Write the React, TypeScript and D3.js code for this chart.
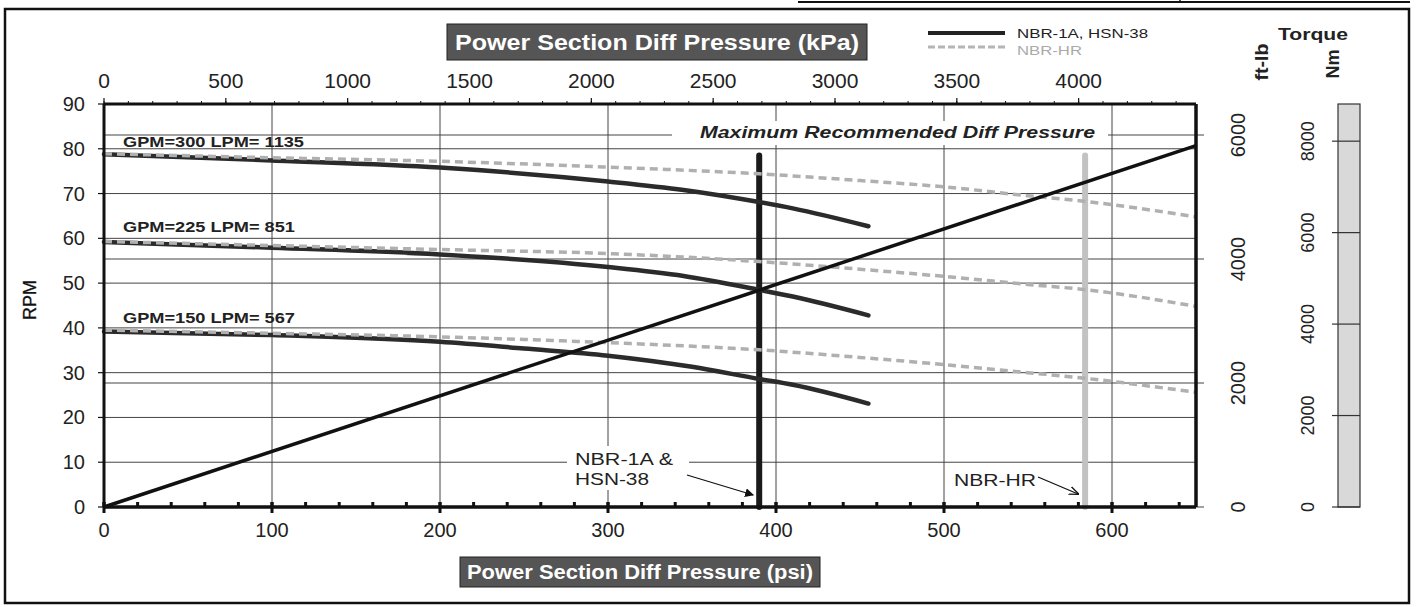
import React from 'react';
import * as d3 from 'd3';

// tick labels
const psiTicks = [0, 100, 200, 300, 400, 500, 600];
const rpmTicks = [0, 10, 20, 30, 40, 50, 60, 70, 80, 90];
const kpaTicks = [0, 500, 1000, 1500, 2000, 2500, 3000, 3500, 4000];
const ftlbTicks = [0, 2000, 4000, 6000];
const nmTicks = [0, 2000, 4000, 6000, 8000];

// flow rates
const flowLabels = ['GPM=300 LPM= 1135', 'GPM=225 LPM= 851', 'GPM=150 LPM= 567'];
const flowLabelRpm = [81.5, 62.5, 42.2];

// NBR-1A, HSN-38 (solid black)
const stdPsi = [0, 100, 200, 300, 345, 390, 410, 455];
const std300 = [78.8, 77.4, 75.8, 72.7, 70.8, 68.1, 66.7, 62.7];
const std225 = [59.2, 57.9, 56.4, 53.6, 51.6, 48.5, 47.0, 42.8];
const std150Psi = [0, 100, 200, 250, 300, 350, 390, 410, 455];
const std150 = [39.2, 38.4, 36.9, 35.4, 33.8, 31.3, 28.6, 27.3, 23.1];

// NBR-HR (grey dashed)
const hrPsi = [0, 100, 200, 300, 390, 450, 500, 550, 585, 650];
const hr300 = [78.9, 78.0, 77.2, 75.9, 74.4, 72.9, 71.5, 69.5, 68.2, 64.8];
const hr225 = [59.3, 58.4, 57.5, 56.6, 54.8, 53.1, 51.5, 49.7, 48.5, 44.8];
const hr150 = [39.5, 38.8, 38.0, 36.7, 35.1, 33.4, 31.8, 30.0, 28.7, 25.6];

// torque (ft-lb) vs psi
const torquePsi = [0, 650];
const torqueFtlb = [0, 5830];

// max recommended diff pressure (psi)
const maxStdPsi = 390;
const maxHrPsi = 584;
const maxBarRpm = 78.5;

const FONT = '"Liberation Sans", Arial, sans-serif';
const PSI_TO_KPA = 6.894757;
const FTLB_TO_NM = 1.35582;

const x = d3.scaleLinear().domain([0, 650]).range([104, 1196]);
const y = d3.scaleLinear().domain([0, 90]).range([507, 104]);
const yFt = d3.scaleLinear().domain([0, 6500]).range([507, 104]);
const yNm = d3.scaleLinear().domain([0, 6500 * FTLB_TO_NM]).range([507, 104]);
const xKpa = d3.scaleLinear().domain([0, 650 * PSI_TO_KPA]).range([104, 1196]);

const zip = (a: number[], b: number[]) => a.map((v, i) => [v, b[i]] as [number, number]);

export default function App() {
  const line = d3.line<[number, number]>()
    .x(d => x(d[0]))
    .y(d => y(d[1]))
    .curve(d3.curveMonotoneX);

  const stdCurves = [zip(stdPsi, std300), zip(stdPsi, std225), zip(std150Psi, std150)];
  const hrCurves = [zip(hrPsi, hr300), zip(hrPsi, hr225), zip(hrPsi, hr150)];
  const torqueLine = d3.line<[number, number]>().x(d => x(d[0])).y(d => yFt(d[1]));

  const [x0, x1] = x.range();
  const [yb, yt] = y.range();

  return (
    <svg width={1416} height={607} style={{ position: 'absolute', left: 0, top: 0, background: '#fff' }}
      fontFamily={FONT}>
      <defs>
        <marker id="arrFill" viewBox="0 0 10 10" refX="9" refY="5" markerWidth="9" markerHeight="9"
          orient="auto" markerUnits="userSpaceOnUse">
          <path d="M0,0 L10,5 L0,10 z" fill="#111" />
        </marker>
        <marker id="arrOpen" viewBox="0 0 10 10" refX="9" refY="5" markerWidth="10" markerHeight="10"
          orient="auto" markerUnits="userSpaceOnUse">
          <path d="M0,1 L10,5 L0,9" fill="none" stroke="#111" strokeWidth="1.3" />
        </marker>
      </defs>

      {/* table fragment above and outer frame */}
      <line x1={798} x2={1410} y1={2} y2={2} stroke="#111" strokeWidth={2} />
      <line x1={1180} x2={1180} y1={0} y2={3} stroke="#111" strokeWidth={1.5} />
      <rect x={5} y={9} width={1404} height={594} fill="none" stroke="#111" strokeWidth={2.5} />

      {/* top title */}
      <rect x={447} y={24} width={420} height={36} fill="#555" stroke="#222" strokeWidth={1} />
      <text x={657} y={50} textAnchor="middle" fill="#fff" fontWeight="bold" fontSize={22}
        textLength={404} lengthAdjust="spacingAndGlyphs">Power Section Diff Pressure (kPa)</text>

      {/* bottom title */}
      <rect x={460} y={557} width={360} height={30} fill="#555" stroke="#222" strokeWidth={1} />
      <text x={640} y={579} textAnchor="middle" fill="#fff" fontWeight="bold" fontSize={20}
        textLength={346} lengthAdjust="spacingAndGlyphs">Power Section Diff Pressure (psi)</text>

      {/* legend */}
      <line x1={928} x2={1005} y1={33} y2={33} stroke="#222" strokeWidth={4} />
      <line x1={928} x2={1005} y1={47} y2={47} stroke="#b5b5b5" strokeWidth={3} strokeDasharray="7,3" />
      <text x={1017} y={38} fontSize={13} fill="#222" textLength={131} lengthAdjust="spacingAndGlyphs">NBR-1A, HSN-38</text>
      <text x={1017} y={55} fontSize={13} fill="#aaa" textLength={65} lengthAdjust="spacingAndGlyphs">NBR-HR</text>

      {/* torque headings */}
      <text x={1313} y={40} textAnchor="middle" fontSize={16} fontWeight="bold" fill="#222"
        textLength={70} lengthAdjust="spacingAndGlyphs">Torque</text>
      <text transform="translate(1262,62) rotate(-90)" textAnchor="middle" dominantBaseline="central"
        fontSize={18} fontWeight="bold" fill="#222" textLength={37} lengthAdjust="spacingAndGlyphs">ft-lb</text>
      <text transform="translate(1333,64) rotate(-90)" textAnchor="middle" dominantBaseline="central"
        fontSize={18} fontWeight="bold" fill="#222">Nm</text>

      {/* grid */}
      {psiTicks.filter(t => t > 0).map(t => (
        <line key={'gx' + t} x1={x(t)} x2={x(t)} y1={yt} y2={yb} stroke="#444" strokeWidth={1} />
      ))}
      {rpmTicks.filter(t => t > 0 && t < 90).map(t => (
        <line key={'gy' + t} x1={x0} x2={x1} y1={y(t)} y2={y(t)} stroke="#444" strokeWidth={1} />
      ))}
      {ftlbTicks.filter(t => t > 0).map(t => (
        <line key={'gf' + t} x1={x0} x2={x1 + 8} y1={yFt(t)} y2={yFt(t)} stroke="#444" strokeWidth={1} />
      ))}
      <line x1={x1} x2={x1 + 8} y1={yFt(0)} y2={yFt(0)} stroke="#444" strokeWidth={1} />

      {/* white label boxes */}
      <rect x={672} y={121} width={436} height={24} fill="#fff" />
      <rect x={567} y={446} width={122} height={44} fill="#fff" />

      {/* maximum pressure bars */}
      <line x1={x(maxHrPsi)} x2={x(maxHrPsi)} y1={y(maxBarRpm)} y2={yb} stroke="#c2c2c2" strokeWidth={6} strokeLinecap="round" />
      <line x1={x(maxStdPsi)} x2={x(maxStdPsi)} y1={y(maxBarRpm)} y2={yb} stroke="#1a1a1a" strokeWidth={6} strokeLinecap="round" />

      {/* curves */}
      {stdCurves.map((c, i) => (
        <path key={'s' + i} d={line(c) || ''} fill="none" stroke="#2b2b2b" strokeWidth={4.5} strokeLinecap="round" />
      ))}
      {hrCurves.map((c, i) => (
        <path key={'h' + i} d={line(c) || ''} fill="none" stroke="#b0b0b0" strokeWidth={3.5} strokeDasharray="8,5" />
      ))}
      <path d={torqueLine(zip(torquePsi, torqueFtlb)) || ''} fill="none" stroke="#111" strokeWidth={3.5} />

      {/* plot frame */}
      <line x1={x0} x2={x1} y1={yt} y2={yt} stroke="#111" strokeWidth={3} />
      <line x1={x1} x2={x1} y1={yt} y2={yb} stroke="#111" strokeWidth={3.5} />
      <line x1={x0} x2={x0} y1={yt} y2={yb} stroke="#111" strokeWidth={3} />
      <line x1={x0} x2={x1} y1={yb} y2={yb} stroke="#111" strokeWidth={3.5} />

      {/* flow labels */}
      {flowLabels.map((s, i) => (
        <text key={s} x={123} y={y(flowLabelRpm[i]) + 5} fontSize={14} fontWeight="bold" fill="#222"
          textLength={i === 0 ? 181 : 172} lengthAdjust="spacingAndGlyphs">{s}</text>
      ))}

      <text x={700} y={138} fontSize={16} fontWeight="bold" fontStyle="italic" fill="#222"
        textLength={395} lengthAdjust="spacingAndGlyphs">Maximum Recommended Diff Pressure</text>

      {/* annotations */}
      <text x={575} y={465} fontSize={16} fill="#222" textLength={98} lengthAdjust="spacingAndGlyphs">NBR-1A &amp;</text>
      <text x={575} y={485} fontSize={16} fill="#222" textLength={74} lengthAdjust="spacingAndGlyphs">HSN-38</text>
      <line x1={687} y1={475} x2={x(maxStdPsi) - 6} y2={495} stroke="#111" strokeWidth={1.3} markerEnd="url(#arrFill)" />
      <text x={954} y={486} fontSize={16} fill="#222" textLength={82} lengthAdjust="spacingAndGlyphs">NBR-HR</text>
      <line x1={1038} y1={477} x2={x(maxHrPsi) - 7} y2={494} stroke="#111" strokeWidth={1.3} markerEnd="url(#arrOpen)" />

      {/* left axis */}
      {rpmTicks.map(t => (
        <g key={'ly' + t}>
          <line x1={x0 - 6} x2={x0} y1={y(t)} y2={y(t)} stroke="#111" strokeWidth={1.2} />
          <text x={85} y={y(t)} textAnchor="end" dominantBaseline="central" fontSize={20} fill="#222">{t}</text>
        </g>
      ))}
      <text transform="translate(30,300) rotate(-90)" textAnchor="middle" dominantBaseline="central"
        fontSize={18} fill="#111" stroke="#111" strokeWidth={0.3}>RPM</text>

      {/* bottom psi axis */}
      {d3.range(0, 650, 20).map(t => (
        <line key={'mx' + t} x1={x(t)} x2={x(t)} y1={yb - 5} y2={yb} stroke="#111" strokeWidth={3} />
      ))}
      {psiTicks.map(t => (
        <g key={'bx' + t}>
          <line x1={x(t)} x2={x(t)} y1={yb - 5} y2={yb + 6} stroke="#111" strokeWidth={3} />
          <text x={x(t)} y={537} textAnchor="middle" fontSize={20} fill="#222">{t}</text>
        </g>
      ))}

      {/* top kPa axis */}
      {d3.range(0, 650 * PSI_TO_KPA, 100).map(t => (
        <line key={'mk' + t} x1={xKpa(t)} x2={xKpa(t)} y1={yt - 3} y2={yt} stroke="#111" strokeWidth={1} />
      ))}
      {kpaTicks.map(t => (
        <g key={'tk' + t}>
          <line x1={xKpa(t)} x2={xKpa(t)} y1={yt - 6} y2={yt} stroke="#111" strokeWidth={1.2} />
          <text x={xKpa(t)} y={88} textAnchor="middle" fontSize={21} fill="#222">{t}</text>
        </g>
      ))}

      {/* ft-lb axis labels */}
      {ftlbTicks.map(t => (
        <text key={'fl' + t} transform={`translate(1238,${yFt(t)}) rotate(-90)`} textAnchor="middle"
          dominantBaseline="central" fontSize={20} fill="#222">{t}</text>
      ))}

      {/* Nm axis bar */}
      <rect x={1338} y={yNm.range()[1]} width={22} height={yNm.range()[0] - yNm.range()[1]}
        fill="#d9d9d9" stroke="#333" strokeWidth={1.2} />
      {nmTicks.map(t => (
        <g key={'nm' + t}>
          <line x1={1332} x2={1360} y1={yNm(t)} y2={yNm(t)} stroke="#333" strokeWidth={1.2} />
          <text transform={`translate(1308,${yNm(t)}) rotate(-90)`} textAnchor="middle"
            dominantBaseline="central" fontSize={18} fill="#222">{t}</text>
        </g>
      ))}
    </svg>
  );
}
